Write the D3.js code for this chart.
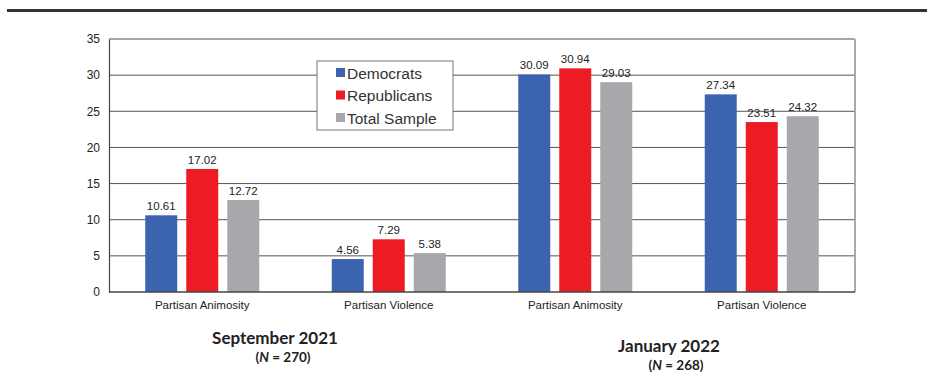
<!DOCTYPE html>
<html><head><meta charset="utf-8">
<script src="https://cdn.jsdelivr.net/npm/d3@7"></script>
<style>body{margin:0;background:#fff}</style>
</head><body>
<svg id="c" width="927" height="383"></svg>
<script>
const categories = ["Partisan Animosity","Partisan Violence","Partisan Animosity","Partisan Violence"];
const seriesNames = ["Democrats","Republicans","Total Sample"];
const democrats = [10.61, 4.56, 30.09, 27.34];
const republicans = [17.02, 7.29, 30.94, 23.51];
const totalSample = [12.72, 5.38, 29.03, 24.32];
const yTicks = [0,5,10,15,20,25,30,35];
const periods = [
  {title:"September 2021", n:"270"},
  {title:"January 2022", n:"268"}
];
const colors = ["#3b63b0","#ed1c24","#a7a8ac"];
const series = [democrats, republicans, totalSample];

const svg = d3.select("#c");
const L=109, R=855, T=39, B=292, GW=114;
// top rule
svg.append("line").attr("x1",7).attr("x2",927).attr("y1",10.5).attr("y2",10.5)
  .attr("stroke","#333").attr("stroke-width",3);

const x0 = d3.scaleBand().domain(d3.range(categories.length)).range([L,R]).paddingInner(0).paddingOuter(0);
const x1 = d3.scaleBand().domain(d3.range(3)).range([0,GW]).paddingInner(0.22);
const y = d3.scaleLinear().domain([0,35]).range([B,T]);

// gridlines
svg.append("g").selectAll("line").data(yTicks.filter(d=>d>0&&d<35)).join("line")
  .attr("x1",L).attr("x2",R).attr("y1",d=>y(d)).attr("y2",d=>y(d))
  .attr("stroke","#555").attr("stroke-width",1);
// top border and right border
svg.append("line").attr("x1",L).attr("x2",R).attr("y1",y(35)).attr("y2",y(35)).attr("stroke","#888").attr("stroke-width",1.5);
svg.append("line").attr("x1",R).attr("x2",R).attr("y1",y(35)).attr("y2",B).attr("stroke","#aaa").attr("stroke-width",2);

// y axis
const yAxis = d3.axisLeft(y).tickValues(yTicks).tickSize(0).tickPadding(9);
const ga = svg.append("g").attr("transform",`translate(${L},0)`).call(yAxis);
ga.select(".domain").attr("stroke","#444").attr("stroke-width",1.2);
ga.selectAll("text").attr("font-family","Liberation Sans, Arial, sans-serif").attr("font-size",12).attr("fill","#222");

// bars
const groupOffset = (x0.bandwidth()-GW)/2;
series.forEach((vals,si)=>{
  svg.append("g").selectAll("rect").data(vals).join("rect")
    .attr("x",(d,i)=>x0(i)+groupOffset+x1(si))
    .attr("width",x1.bandwidth())
    .attr("y",d=>y(d)).attr("height",d=>B-y(d))
    .attr("fill",colors[si]);
  svg.append("g").selectAll("text").data(vals).join("text")
    .attr("x",(d,i)=>x0(i)+groupOffset+x1(si)+x1.bandwidth()/2)
    .attr("y",d=>y(d)-5)
    .attr("text-anchor","middle")
    .attr("font-family","Liberation Sans, Arial, sans-serif").attr("font-size",11.5).attr("fill","#222")
    .text(d=>d.toFixed(2));
});

// x axis line
svg.append("line").attr("x1",L).attr("x2",R).attr("y1",B).attr("y2",B).attr("stroke","#444").attr("stroke-width",1.5);

// category labels
svg.append("g").selectAll("text").data(categories).join("text")
  .attr("x",(d,i)=>x0(i)+x0.bandwidth()/2).attr("y",309)
  .attr("text-anchor","middle")
  .attr("font-family","Liberation Sans, Arial, sans-serif").attr("font-size",11.5).attr("fill","#222")
  .text(d=>d);

// period labels
const pPos = [{x:275,y:344,nx:283,ny:362},{x:669,y:352,nx:676,ny:370}];
periods.forEach((p,i)=>{
  svg.append("text").attr("x",pPos[i].x).attr("y",pPos[i].y).attr("text-anchor","middle")
    .attr("font-family","Lato, Open Sans, sans-serif").attr("font-weight","bold").attr("font-size",17).attr("fill","#222")
    .text(p.title);
  const t = svg.append("text").attr("x",pPos[i].nx).attr("y",pPos[i].ny).attr("text-anchor","middle")
    .attr("font-family","Lato, Open Sans, sans-serif").attr("font-weight","bold").attr("font-size",13.5).attr("fill","#222");
  t.append("tspan").text("(");
  t.append("tspan").attr("font-style","italic").text("N");
  t.append("tspan").text(" = " + p.n + ")");
});

// legend
const lg = svg.append("g");
lg.append("rect").attr("x",317).attr("y",61).attr("width",136).attr("height",69)
  .attr("fill","#fff").attr("stroke","#777").attr("stroke-width",1);
seriesNames.forEach((s,i)=>{
  const cy = 73 + i*22.5;
  lg.append("rect").attr("x",336).attr("y",cy-5).attr("width",9).attr("height",9).attr("fill",colors[i]);
  lg.append("text").attr("x",347).attr("y",cy+5.5)
    .attr("font-family","Liberation Sans, Arial, sans-serif").attr("font-size",15.5).attr("fill","#333")
    .text(s);
});
</script>
</body></html>
